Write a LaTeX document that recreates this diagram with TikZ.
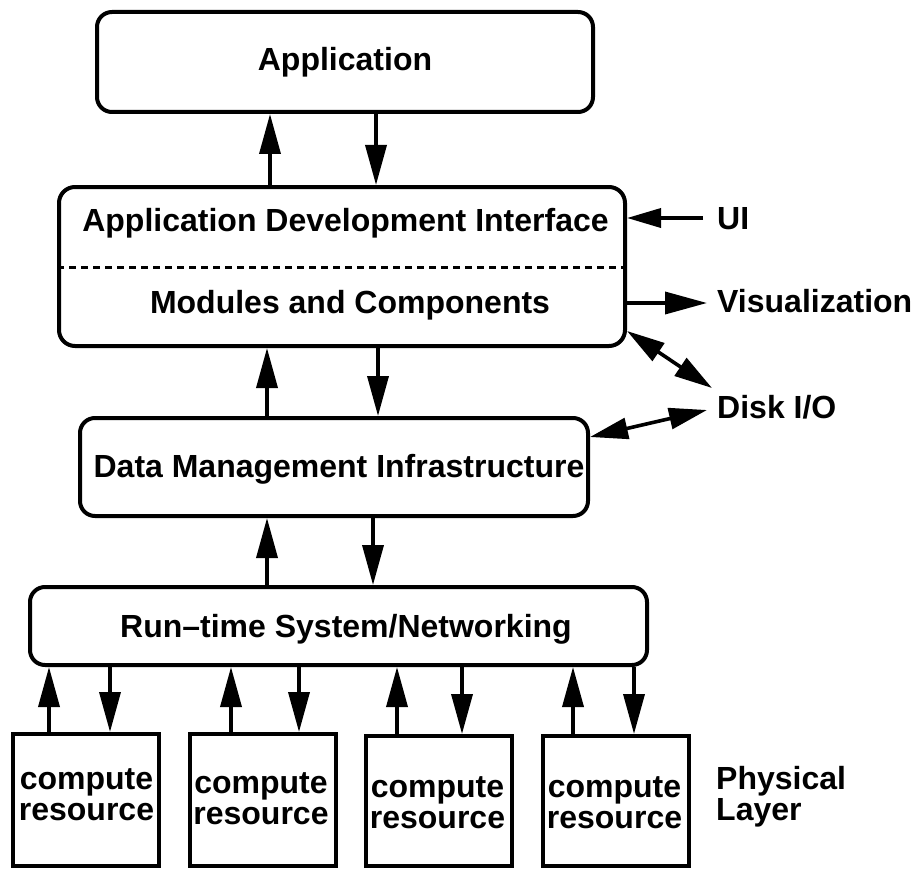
\documentclass[tikz,border=0pt]{standalone}
\usepackage{fontspec}
\setmainfont{Liberation Sans}
\usetikzlibrary{arrows.meta}
\begin{document}
\begin{tikzpicture}[x=1pt,y=-1pt,
  box/.style={draw,line width=4pt,rounded corners=15pt,inner sep=0pt},
  sqbox/.style={draw,line width=4pt,inner sep=0pt,minimum width=146pt},
  txt/.style={font=\fontsize{32}{31}\selectfont\bfseries,inner sep=0pt,anchor=base,align=center},
  lbl/.style={font=\fontsize{32}{31}\selectfont\bfseries,inner sep=0pt,anchor=base west,align=left},
  arr/.style={line width=3.6pt,-{Triangle[length=40pt,width=21pt]}},
  darr/.style={line width=3.6pt,{Triangle[length=38pt,width=21pt]}-{Triangle[length=38pt,width=21pt]}},
]
\useasboundingbox (0,0) rectangle (917,869);

% boxes
\node[box,minimum width=496pt,minimum height=100pt] (app) at (345,62) {};
\node[box,rounded corners=16pt,minimum width=566pt,minimum height=159pt] (adi) at (342,266.5) {};
\node[box,minimum width=508pt,minimum height=98pt] (dmi) at (334,467) {};
\node[box,minimum width=617pt,minimum height=78pt] (rts) at (338.5,626) {};
\node[sqbox,minimum height=132pt] (cr1) at (86,800) {};
\node[sqbox,minimum height=132pt] (cr2) at (263,800) {};
\node[sqbox,minimum height=130pt] (cr3) at (439,801) {};
\node[sqbox,minimum height=130pt] (cr4) at (616,801) {};

% dashed separator
\draw[line width=3pt,dash pattern=on 7pt off 5pt] (adi.west |- 0,267) -- (adi.east |- 0,267);

% texts (multi-line: base anchor is the last line's baseline)
\node[txt] (tapp) at (345,71) {Application};
\node[txt] (tadi) at (345.5,231) {Application Development Interface};
\node[txt] (tmc) at (350,313) {Modules and Components};
\node[txt] (tdmi) at (339,477) {Data Management Infrastructure};
\node[txt] (trts) at (346,637) {Run–time System/Networking};
\node[txt] (tcr1) at (86.5,820) {compute\\resource};
\node[txt] (tcr2) at (261,824) {compute\\resource};
\node[txt] (tcr3) at (437.5,828) {compute\\resource};
\node[txt] (tcr4) at (614.5,828) {compute\\resource};
\node[lbl] (ui) at (717,229) {UI};
\node[lbl] (vis) at (717,312) {Visualization};
\node[lbl] (disk) at (717,418) {Disk I/O};
\node[lbl] (phys) at (716,820) {Physical\\Layer};

% vertical connectors
\draw[arr] (adi.north -| 270,0) -- (app.south -| 270,0);
\draw[arr] (app.south -| 376,0) -- (adi.north -| 376,0);
\draw[arr] (dmi.north -| 267,0) -- (adi.south -| 267,0);
\draw[arr] (adi.south -| 378,0) -- (dmi.north -| 378,0);
\draw[arr] (rts.north -| 267,0) -- (dmi.south -| 267,0);
\draw[arr] (dmi.south -| 373,0) -- (rts.north -| 373,0);

\draw[arr] (cr1.north -| 49,0) -- (rts.south -| 49,0);
\draw[arr] (rts.south -| 110,0) -- (cr1.north -| 110,0);
\draw[arr] (cr2.north -| 231,0) -- (rts.south -| 231,0);
\draw[arr] (rts.south -| 299,0) -- (cr2.north -| 299,0);
\draw[arr] (cr3.north -| 397,0) -- (rts.south -| 397,0);
\draw[arr] (rts.south -| 462,0) -- (cr3.north -| 462,0);
\draw[arr] (cr4.north -| 573,0) -- (rts.south -| 573,0);
\draw[arr] (rts.south -| 634,0) -- (cr4.north -| 634,0);

% side connectors
\coordinate (uis) at (703,218);
\coordinate (vise) at (707,303);
\coordinate (d1) at (712,388);
\coordinate (d2) at (707,410);
\draw[line width=3.6pt,-{Triangle[length=34pt,width=19pt]}] (uis) -- (adi.east |- uis);
\draw[line width=3.6pt,-{Triangle[length=42pt,width=22pt]}] (adi.east |- vise) -- (vise);
\draw[darr] (adi.east |- 0,331) -- (d1);
\draw[darr] (dmi.east |- 0,437) -- (d2);
\end{tikzpicture}
\end{document}
